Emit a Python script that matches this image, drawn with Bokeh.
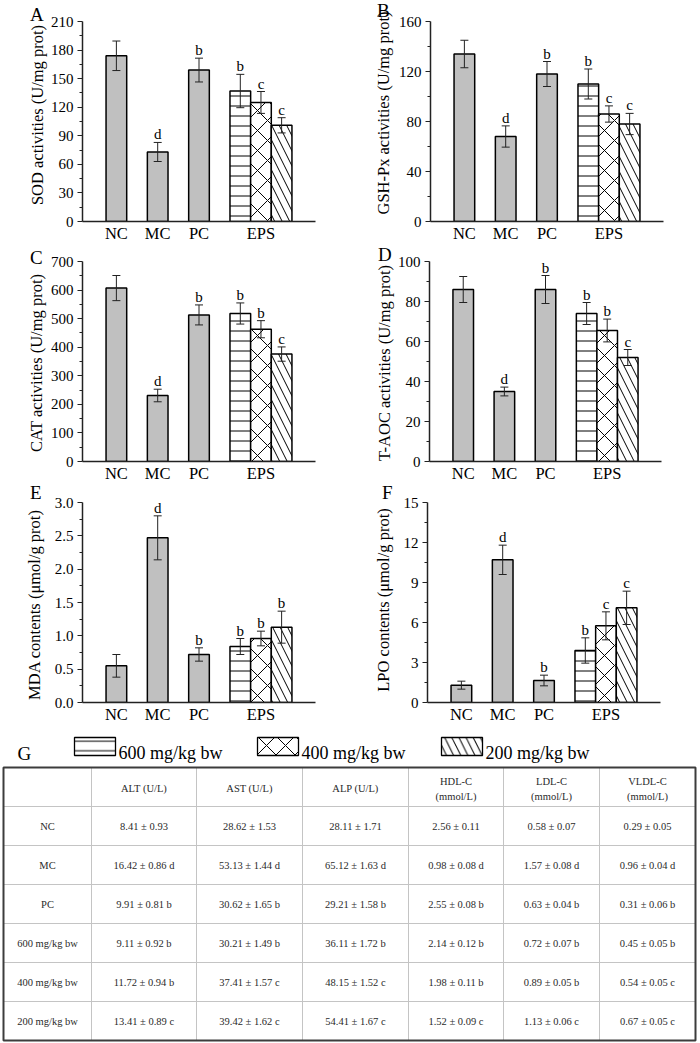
from bokeh.plotting import figure
from bokeh.models import (Range1d, FixedTicker, Whisker, TeeHead, ColumnDataSource,
                          LabelSet, NumeralTickFormatter, Div)
from bokeh.layouts import row, column
from bokeh.embed import file_html
from bokeh.resources import INLINE
from bokeh.core.properties import value

SERIF = "Liberation Serif"

# ---------------- data ----------------
groups = ["NC", "MC", "PC", "600 mg/kg bw", "400 mg/kg bw", "200 mg/kg bw"]
axis_groups = ["NC", "MC", "PC", "EPS"]

sod_mean = [174, 73, 159, 137, 125, 101]
sod_err = [15.5, 10, 12.5, 17.5, 11.5, 8]
sod_sig = ["", "d", "b", "b", "c", "c"]

gsh_mean = [134, 68, 118, 110, 86, 78]
gsh_err = [11, 8.5, 10, 12, 6.5, 8.5]
gsh_sig = ["", "d", "b", "b", "c", "c"]

cat_mean = [607, 231, 513, 518, 463, 376]
cat_err = [44, 22, 35, 37, 30, 25]
cat_sig = ["", "d", "b", "b", "b", "c"]

taoc_mean = [86, 35, 86, 74, 65.5, 52]
taoc_err = [6.5, 2.2, 7, 5.5, 5.7, 4]
taoc_sig = ["", "d", "b", "b", "b", "c"]

mda_mean = [0.55, 2.47, 0.72, 0.84, 0.96, 1.13]
mda_err = [0.17, 0.33, 0.10, 0.12, 0.11, 0.24]
mda_sig = ["", "d", "b", "b", "b", "b"]

lpo_mean = [1.3, 10.7, 1.65, 3.9, 5.75, 7.1]
lpo_err = [0.3, 1.1, 0.4, 0.95, 1.05, 1.25]
lpo_sig = ["", "d", "b", "b", "c", "c"]

table_rows = ["NC", "MC", "PC", "600 mg/kg bw", "400 mg/kg bw", "200 mg/kg bw"]
table_headers = [["ALT (U/L)"], ["AST (U/L)"], ["ALP (U/L)"],
                 ["HDL-C", "(mmol/L)"], ["LDL-C", "(mmol/L)"], ["VLDL-C", "(mmol/L)"]]
alt = ["8.41 ± 0.93", "16.42 ± 0.86 d", "9.91 ± 0.81 b", "9.11 ± 0.92 b", "11.72 ± 0.94 b", "13.41 ± 0.89 c"]
ast = ["28.62 ± 1.53", "53.13 ± 1.44 d", "30.62 ± 1.65 b", "30.21 ± 1.49 b", "37.41 ± 1.57 c", "39.42 ± 1.62 c"]
alp = ["28.11 ± 1.71", "65.12 ± 1.63 d", "29.21 ± 1.58 b", "36.11 ± 1.72 b", "48.15 ± 1.52 c", "54.41 ± 1.67 c"]
hdl = ["2.56 ± 0.11", "0.98 ± 0.08 d", "2.55 ± 0.08 b", "2.14 ± 0.12 b", "1.98 ± 0.11 b", "1.52 ± 0.09 c"]
ldl = ["0.58 ± 0.07", "1.57 ± 0.08 d", "0.63 ± 0.04 b", "0.72 ± 0.07 b", "0.89 ± 0.05 b", "1.13 ± 0.06 c"]
vldl = ["0.29 ± 0.05", "0.96 ± 0.04 d", "0.31 ± 0.06 b", "0.45 ± 0.05 b", "0.54 ± 0.05 c", "0.67 ± 0.05 c"]
table_cols = [alt, ast, alp, hdl, ldl, vldl]

legend_labels = ["600 mg/kg bw", "400 mg/kg bw", "200 mg/kg bw"]

# ---------------- layout / style ----------------
XPOS = [0, 1, 2, 3, 3.5, 4]
AXIS_TICK_POS = [0, 1, 2, 3.5]
BAR_W = 0.5
X0, X1 = -0.82, 4.82
FRAME_W = 233
HALF_W = 350
GRAY = "#c0c0c0"
HATCH = [("-", 10), ("x", 20), ("\\", 15)]
CSS_FONT = "font-family:'Liberation Serif',serif;color:#000;"


def strip(S, h, letter, lx, ltop, ylabel, yl_x, yl_y):
    """Narrow HTML block holding the panel letter and the rotated y-axis title."""
    html = (
        f'<div style="position:relative;width:{S}px;height:{h}px;overflow:visible;">'
        f'<span style="position:absolute;left:{lx}px;top:{ltop}px;{CSS_FONT}'
        f'font-size:19px;line-height:1;white-space:nowrap;">{letter}</span>'
        f'<span style="position:absolute;left:{yl_x}px;top:{yl_y}px;{CSS_FONT}'
        f'font-size:16.5px;line-height:1;white-space:nowrap;'
        f'transform:translate(-50%,-50%) rotate(-90deg);">{ylabel}</span>'
        f'</div>'
    )
    return Div(text=html, width=S, height=h, margin=0)


def panel(letter, ylabel, mean, err, sig, ymax, step, minor, fmt, h,
          S, frame_left, bt, frame_h, lx, ltop, yl_x, yl_y):
    w = HALF_W - S
    bl = frame_left - S
    br = w - bl - FRAME_W
    bb = h - bt - frame_h
    p = figure(width=w, height=h, x_range=Range1d(X0, X1), y_range=Range1d(0, ymax),
               output_backend="svg", toolbar_location=None,
               min_border_left=bl, min_border_right=br, min_border_top=bt, min_border_bottom=bb)
    p.outline_line_color = None
    p.grid.visible = False

    # bars
    p.vbar(x=XPOS[:3], top=mean[:3], width=BAR_W, fill_color=GRAY,
           line_color="black", line_width=1.5)
    for i, (pat, sc) in zip(range(3, 6), HATCH):
        p.vbar(x=[XPOS[i]], top=[mean[i]], width=BAR_W, fill_color="white",
               hatch_pattern=pat, hatch_scale=sc, hatch_color="black", hatch_weight=1,
               line_color="black", line_width=1.5)

    src = ColumnDataSource(dict(
        x=XPOS,
        upper=[m + e for m, e in zip(mean, err)],
        lower=[m - e for m, e in zip(mean, err)],
        sig=sig,
    ))
    wk = Whisker(source=src, base="x", upper="upper", lower="lower",
                 line_color="#222", line_width=1, level="overlay",
                 upper_head=TeeHead(size=8, line_color="#222", line_width=1),
                 lower_head=TeeHead(size=8, line_color="#222", line_width=1))
    p.add_layout(wk)
    ls = LabelSet(source=src, x="x", y="upper", text="sig", y_offset=3,
                  text_align="center", text_baseline="alphabetic",
                  text_font=value(SERIF), text_font_size="15px", text_color="black",
                  level="overlay")
    p.add_layout(ls)

    # y axis
    ya = p.yaxis[0]
    n = int(round(ymax / step))
    ticks = [round(k * step, 6) for k in range(n + 1)]
    minors = [round(minor + k * step, 6) for k in range(n)]
    ya.ticker = FixedTicker(ticks=ticks, minor_ticks=minors)
    if fmt:
        ya.formatter = NumeralTickFormatter(format=fmt)
    ya.major_label_text_font = SERIF
    ya.major_label_text_font_size = "15px"
    ya.major_label_text_color = "black"
    ya.major_label_standoff = 4
    ya.major_tick_in = 0
    ya.major_tick_out = 5
    ya.minor_tick_in = 0
    ya.minor_tick_out = 3
    ya.axis_line_width = 1.5
    ya.axis_line_color = "#222"
    ya.major_tick_line_color = "#222"
    ya.minor_tick_line_color = "#222"
    ya.major_tick_line_width = 1.2
    ya.minor_tick_line_width = 1.2

    # x axis
    xa = p.xaxis[0]
    xa.ticker = FixedTicker(ticks=AXIS_TICK_POS, minor_ticks=[])
    xa.major_label_overrides = {t: g for t, g in zip(AXIS_TICK_POS, axis_groups)}
    xa.major_tick_line_color = None
    xa.major_tick_in = 0
    xa.major_tick_out = 0
    xa.minor_tick_in = 0
    xa.minor_tick_out = 0
    xa.major_label_standoff = 2
    xa.major_label_text_font = SERIF
    xa.major_label_text_font_size = "16.5px"
    xa.major_label_text_color = "black"
    xa.axis_line_width = 1.5
    xa.axis_line_color = "#222"

    st = strip(S, h, letter, lx, ltop, ylabel, yl_x, yl_y)
    return st, p


# strip: left column 47 px wide, right column 44 px wide
sA, pA = panel("A", "SOD activities (U/mg prot)", sod_mean, sod_err, sod_sig, 210, 30, 15, None,
               245, 47, 82, 19, 202, 30, 5, 37.5, 115)
sB, pB = panel("B", "GSH-Px activities (U/mg prot)", gsh_mean, gsh_err, gsh_sig, 160, 40, 20, None,
               245, 44, 80, 21, 202, 27, 1, 33.5, 113)
sC, pC = panel("C", "CAT activities (U/mg prot)", cat_mean, cat_err, cat_sig, 700, 100, 50, None,
               240, 47, 82, 15, 203, 30, 3, 36.5, 118)
sD, pD = panel("D", "T-AOC activities (U/mg prot)", taoc_mean, taoc_err, taoc_sig, 100, 20, 10, None,
               240, 44, 78, 16, 202, 28, 0, 35, 118)
sE, pE = panel("E", "MDA contents (μmol/g prot)", mda_mean, mda_err, mda_sig, 3.0, 0.5, 0.25, "0.0",
               241, 47, 82, 17, 202, 30, -2, 35, 120)
sF, pF = panel("F", "LPO contents (μmol/g prot)", lpo_mean, lpo_err, lpo_sig, 15, 3, 1.5, None,
               241, 44, 77, 15, 202, 32, -2, 34, 115)

# ---------------- legend + table figure ----------------
TW, TH = 700, 317
pt = figure(width=TW, height=TH, x_range=Range1d(0, TW), y_range=Range1d(TH, 0),
            x_axis_type=None, y_axis_type=None, output_backend="svg",
            toolbar_location=None, min_border=0)
pt.outline_line_color = None
pt.grid.visible = False

# legend
pt.text(x=[17], y=[27], text=["G"], text_font=value(SERIF), text_font_size="19px",
        text_align="left", text_baseline="alphabetic", text_color="black")
box_left = [74, 257, 441]
for bx, (pat, sc), lab in zip(box_left, HATCH, legend_labels):
    pt.quad(left=[bx], right=[bx + 41], top=[11], bottom=[29], fill_color="white",
            hatch_pattern=pat, hatch_scale=sc * 0.95, hatch_color="black", hatch_weight=1,
            line_color="black", line_width=1.3)
    pt.text(x=[bx + 44], y=[26], text=[lab], text_font=value(SERIF), text_font_size="18px",
            text_align="left", text_baseline="alphabetic", text_color="black")

# table grid
col_edges = [3, 91, 196, 302, 408, 503, 599, 695]
top = 41
row_h = 39
n_rows = len(table_rows) + 1
row_edges = [top + i * row_h for i in range(n_rows + 1)]
pt.segment(x0=col_edges[1:-1], x1=col_edges[1:-1], y0=[row_edges[0]] * 6, y1=[row_edges[-1]] * 6,
           line_color="#c4c4c4", line_width=1)
pt.segment(x0=[col_edges[0]] * (n_rows - 1), x1=[col_edges[-1]] * (n_rows - 1),
           y0=row_edges[1:-1], y1=row_edges[1:-1], line_color="#c4c4c4", line_width=1)
pt.quad(left=[col_edges[0]], right=[col_edges[-1]], top=[row_edges[0]], bottom=[row_edges[-1]],
        fill_color=None, line_color="#3c3c3c", line_width=2)

TFONT = dict(text_font=value(SERIF), text_font_size="10.5px", text_color="#2a2a2a",
             text_align="center", text_baseline="middle")
centers_x = [(col_edges[i] + col_edges[i + 1]) / 2 for i in range(7)]
centers_y = [(row_edges[i] + row_edges[i + 1]) / 2 for i in range(n_rows)]

hx, hy, ht = [], [], []
for ci, lines in enumerate(table_headers):
    if len(lines) == 1:
        hx.append(centers_x[ci + 1]); hy.append(centers_y[0] + 1); ht.append(lines[0])
    else:
        hx += [centers_x[ci + 1]] * 2
        hy += [centers_y[0] - 6, centers_y[0] + 9]
        ht += lines
pt.text(x=hx, y=hy, text=ht, **TFONT)

rx, ry, rt = [], [], []
for ri, lab in enumerate(table_rows):
    rx.append(centers_x[0]); ry.append(centers_y[ri + 1]); rt.append(lab)
    for ci, col in enumerate(table_cols):
        rx.append(centers_x[ci + 1]); ry.append(centers_y[ri + 1]); rt.append(col[ri])
pt.text(x=rx, y=ry, text=rt, **TFONT)

layout = column(row(sA, pA, sB, pB), row(sC, pC, sD, pD), row(sE, pE, sF, pF), pt)

open("out.html", "w").write(file_html(layout, INLINE))
